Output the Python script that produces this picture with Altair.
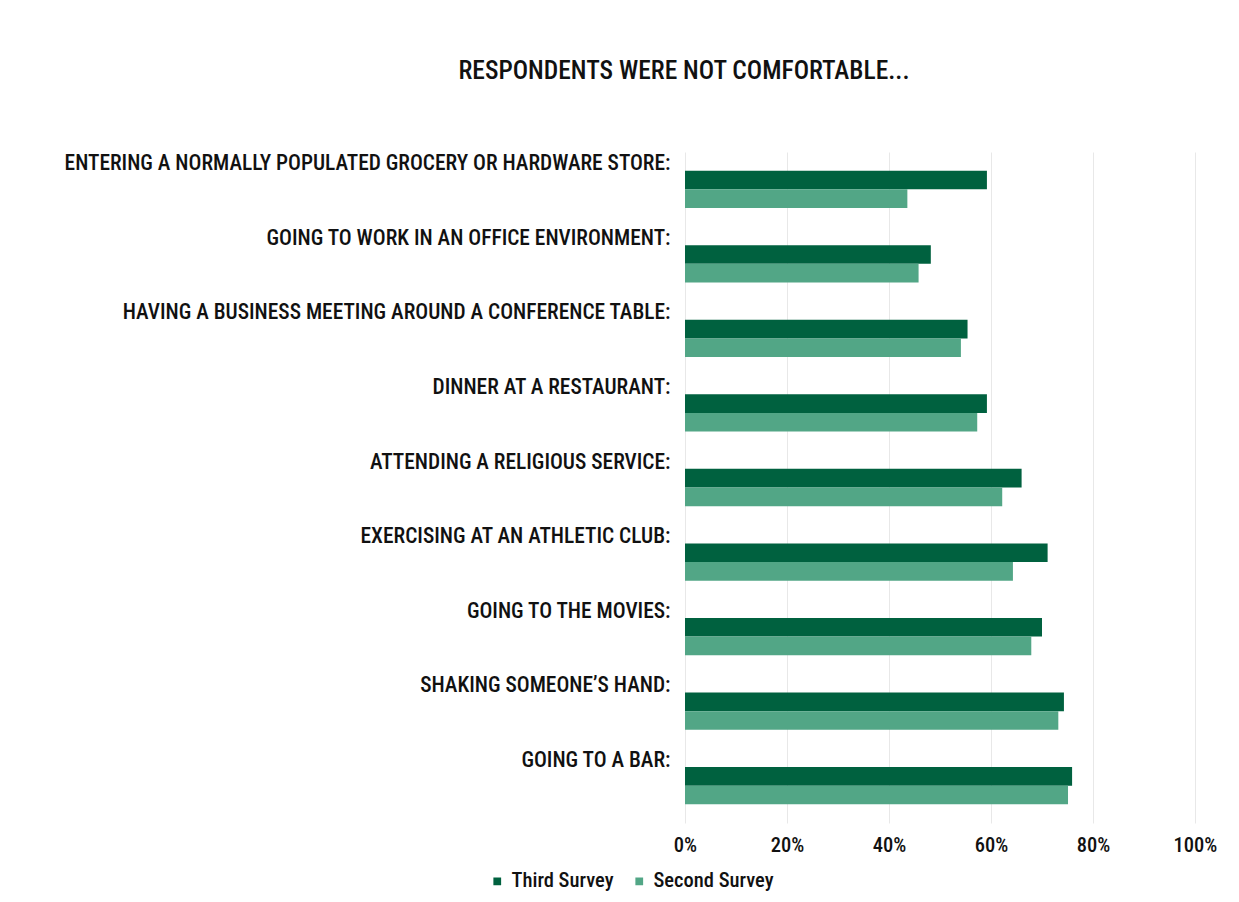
import altair as alt
import pandas as pd

categories = [
    "ENTERING A NORMALLY POPULATED GROCERY OR HARDWARE STORE:",
    "GOING TO WORK IN AN OFFICE ENVIRONMENT:",
    "HAVING A BUSINESS MEETING AROUND A CONFERENCE TABLE:",
    "DINNER AT A RESTAURANT:",
    "ATTENDING A RELIGIOUS SERVICE:",
    "EXERCISING AT AN ATHLETIC CLUB:",
    "GOING TO THE MOVIES:",
    "SHAKING SOMEONE\u2019S HAND:",
    "GOING TO A BAR:",
]
third_survey = [59.2, 48.2, 55.4, 59.2, 66.0, 71.1, 70.0, 74.3, 75.9]
second_survey = [43.6, 45.8, 54.1, 57.3, 62.2, 64.3, 67.9, 73.2, 75.1]
series = ["Third Survey", "Second Survey"]
colors = ["#00613f", "#52a686"]

rows = []
for c, t, s in zip(categories, third_survey, second_survey):
    rows.append({"activity": c, "survey": series[0], "value": t / 100})
    rows.append({"activity": c, "survey": series[1], "value": s / 100})
df = pd.DataFrame(rows)

FONT = "Roboto Condensed, 'DejaVu Sans Condensed', 'Liberation Sans Narrow', Roboto, sans-serif"

chart = alt.Chart(df).mark_bar().encode(
    x=alt.X(
        "value:Q",
        scale=alt.Scale(domain=[0, 1], nice=False),
        axis=alt.Axis(
            format=".0%", values=[0, 0.2, 0.4, 0.6, 0.8, 1.0], title=None,
            domain=False, ticks=False, grid=True, gridColor="#e8e8e8",
            labelFontSize=20.5, labelColor="#111111", labelPadding=12, labelFont=FONT,
            labelFontWeight=500, labelFlush=False, labelOverlap=False,
        ),
    ),
    y=alt.Y(
        "activity:N", sort=categories,
        scale=alt.Scale(paddingInner=0.5, paddingOuter=0.25),
        axis=alt.Axis(
            title=None, domain=False, ticks=False, grid=False,
            labelFontSize=21.4, labelColor="#111111", labelPadding=15,
            labelOffset=-25, labelLimit=1000, labelFont=FONT, labelFontWeight=500,
        ),
    ),
    yOffset=alt.YOffset("survey:N", sort=series),
    color=alt.Color(
        "survey:N", sort=series,
        scale=alt.Scale(domain=series, range=colors),
        legend=alt.Legend(
            title=None, orient="none", legendX=-198, legendY=719,
            direction="horizontal", symbolType="square", symbolSize=60,
            symbolStrokeWidth=0, labelFontSize=20.5, labelColor="#111111",
            labelFont=FONT, columnPadding=15, padding=0, labelFontWeight=500,
        ),
    ),
).properties(
    width=510,
    height=671,
    title=alt.TitleParams(
        "RESPONDENTS WERE NOT COMFORTABLE...", anchor="middle", frame="group",
        dx=-256, offset=68, fontSize=25.5, fontWeight=500, color="#111111",
        font=FONT,
    ),
    autosize=alt.AutoSizeParams(type="none"),
    padding={"left": 677, "top": 144, "right": 35, "bottom": 70},
).configure_view(stroke=None)

chart.save("out.html", embed_options={"renderer": "svg", "actions": False})
